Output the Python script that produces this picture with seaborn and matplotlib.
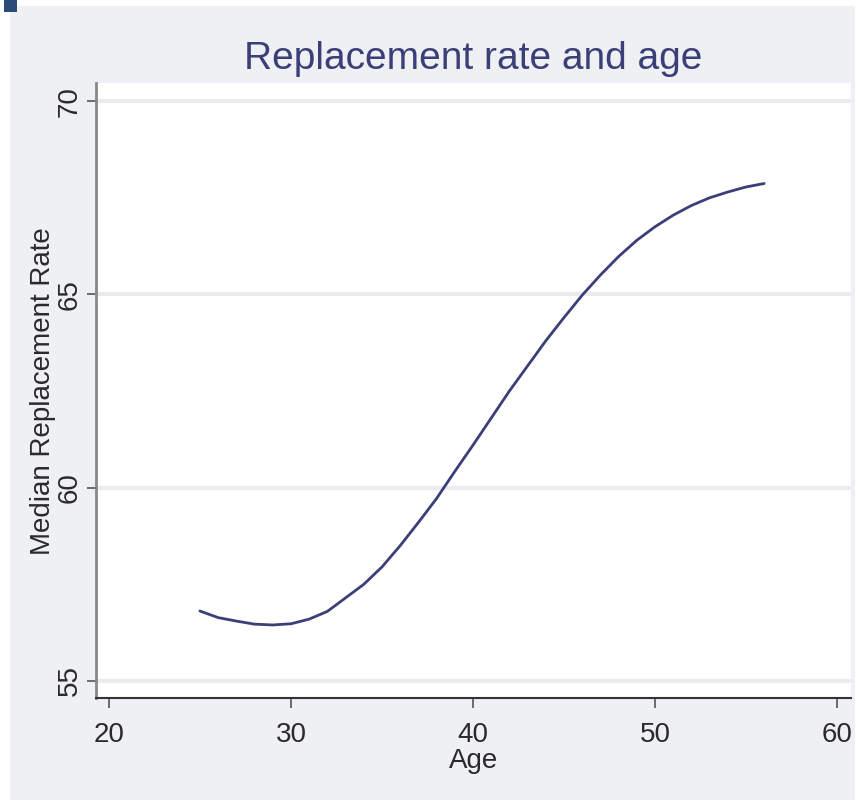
import matplotlib
matplotlib.use("Agg")
import matplotlib.pyplot as plt
import seaborn as sns
import pandas as pd
from matplotlib.patches import Rectangle

ages = list(range(25, 57))
median_rate = [56.81, 56.64, 56.55, 56.47, 56.45, 56.48, 56.60, 56.80, 57.15, 57.50,
               57.95, 58.50, 59.10, 59.72, 60.42, 61.10, 61.80, 62.50, 63.15, 63.80,
               64.40, 64.98, 65.50, 65.98, 66.40, 66.75, 67.05, 67.30, 67.50, 67.65,
               67.78, 67.87]
x_ticks = [20, 30, 40, 50, 60]
y_ticks = [55, 60, 65, 70]
title = "Replacement rate and age"
x_label = "Age"
y_label = "Median Replacement Rate"

sns.set_theme(style="white")
plt.rcParams['font.family'] = ['Liberation Sans', 'DejaVu Sans']

W, H = 859, 802
fig = plt.figure(figsize=(W / 100, H / 100), dpi=100)
fig.patch.set_facecolor("white")
bg = "#eff0f3"
fig.patches.append(Rectangle((10 / W, 1 - 800 / H), (855 - 10) / W, (800 - 6) / H,
                             transform=fig.transFigure, facecolor=bg, edgecolor="none", zorder=-10))
fig.patches.append(Rectangle((4 / W, 1 - 12 / H), 13 / W, 12 / H,
                             transform=fig.transFigure, facecolor="#2b4a7a", edgecolor="none", zorder=-5))

ax = fig.add_axes([96 / W, 1 - 698 / H, (851 - 96) / W, (698 - 83) / H])
ax.set_zorder(2)
ax.set_facecolor("white")

df = pd.DataFrame({"age": ages, "rate": median_rate})
sns.lineplot(data=df, x="age", y="rate", ax=ax, color="#3b3f78", linewidth=2.0)

ax.set_xlim(19.29, 60.77)
ax.set_ylim(54.56, 70.47)
ax.set_xticks(x_ticks)
ax.set_yticks(y_ticks)
ax.set_xticklabels([str(v) for v in x_ticks], fontsize=20, color="#2a2a2a")
ax.set_yticklabels([str(v) for v in y_ticks], fontsize=20, color="#2a2a2a",
                   rotation=90, va="center")
ax.tick_params(axis="x", length=7, width=1.2, color="#555555", pad=10, bottom=True)
ax.tick_params(axis="y", length=6.5, width=1.2, color="#555555", pad=3, left=True)
ax.yaxis.grid(True, color="#ececec", linewidth=3)
ax.xaxis.grid(False)
ax.set_axisbelow(True)

for s in ["top", "right"]:
    ax.spines[s].set_visible(False)
ax.spines["left"].set_color("#888888")
ax.spines["left"].set_linewidth(2)
ax.spines["bottom"].set_color("#333333")
ax.spines["bottom"].set_linewidth(1.5)

ax.set_xlabel(x_label, fontsize=20, color="#2a2a2a", labelpad=0)
ax.set_ylabel("")
fig.text(43 / W, 1 - 391 / H, y_label, rotation=90, ha="center", va="center",
         fontsize=20, color="#2a2a2a")
fig.text(473 / W, 1 - 59 / H, title, ha="center", va="center", fontsize=28, color="#3b3f78")

fig.savefig("out.png", dpi=100, facecolor=fig.get_facecolor())
